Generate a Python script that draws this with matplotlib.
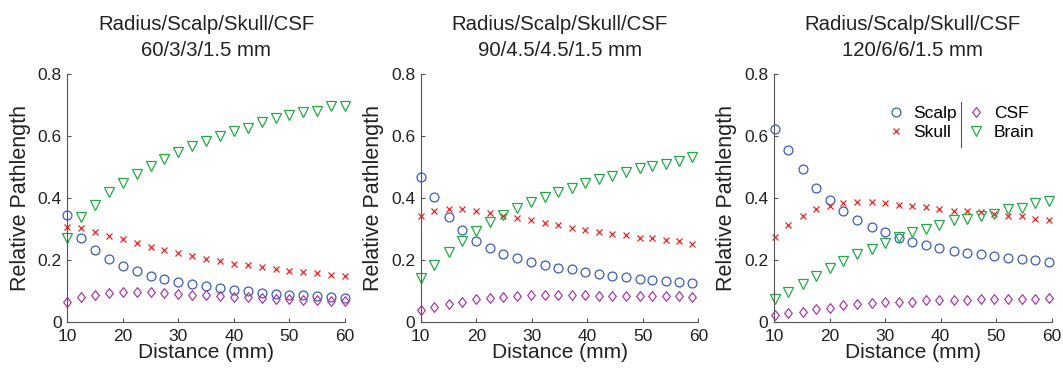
import numpy as np
import matplotlib.pyplot as plt
from matplotlib.path import Path

plt.rcParams['font.family'] = ['Liberation Sans', 'DejaVu Sans']

titles = ['Radius/Scalp/Skull/CSF\n60/3/3/1.5 mm',
          'Radius/Scalp/Skull/CSF\n90/4.5/4.5/1.5 mm',
          'Radius/Scalp/Skull/CSF\n120/6/6/1.5 mm']

# panel 1
x1 = [10, 12.5, 15, 17.5, 20, 22.5, 25, 27.5, 30, 32.5, 35, 37.5, 40, 42.5, 45,
      47.5, 50, 52.5, 55, 57.5, 60]
scalp1 = [0.346, 0.270, 0.234, 0.203, 0.181, 0.165, 0.150, 0.141, 0.130, 0.122, 0.117,
          0.110, 0.105, 0.101, 0.093, 0.091, 0.089, 0.087, 0.084, 0.081, 0.079]
skull1 = [0.308, 0.303, 0.291, 0.278, 0.267, 0.254, 0.242, 0.232, 0.222, 0.213, 0.205,
          0.198, 0.189, 0.185, 0.177, 0.171, 0.165, 0.161, 0.158, 0.151, 0.148]
csf1 = [0.067, 0.083, 0.089, 0.094, 0.097, 0.097, 0.097, 0.093, 0.091, 0.089, 0.087,
        0.084, 0.082, 0.081, 0.077, 0.075, 0.074, 0.072, 0.071, 0.069, 0.068]
brain1 = [0.273, 0.338, 0.378, 0.419, 0.448, 0.478, 0.505, 0.526, 0.550, 0.569, 0.585,
          0.601, 0.617, 0.626, 0.646, 0.657, 0.667, 0.677, 0.680, 0.696, 0.697]

# panel 2
x2 = [10, 12.47, 15.0, 17.4, 19.9, 22.4, 24.9, 27.3, 29.8, 32.3, 34.7, 37.2, 39.5,
      42.1, 44.5, 46.9, 49.4, 51.7, 54.1, 56.5, 58.9]
scalp2 = [0.468, 0.404, 0.339, 0.297, 0.263, 0.239, 0.220, 0.206, 0.194, 0.185, 0.176,
          0.171, 0.162, 0.155, 0.150, 0.145, 0.140, 0.137, 0.132, 0.129, 0.126]
skull2 = [0.343, 0.357, 0.365, 0.364, 0.359, 0.351, 0.343, 0.335, 0.328, 0.320, 0.312,
          0.304, 0.297, 0.292, 0.286, 0.280, 0.273, 0.270, 0.266, 0.261, 0.253]
csf2 = [0.040, 0.050, 0.059, 0.067, 0.074, 0.079, 0.083, 0.085, 0.087, 0.087, 0.087,
        0.087, 0.087, 0.086, 0.085, 0.085, 0.085, 0.084, 0.084, 0.084, 0.083]
brain2 = [0.142, 0.183, 0.226, 0.261, 0.295, 0.322, 0.346, 0.367, 0.387, 0.403, 0.419,
          0.432, 0.448, 0.462, 0.472, 0.483, 0.496, 0.503, 0.510, 0.521, 0.532]

# panel 3
x3 = [10.1, 12.6, 15.2, 17.6, 20.1, 22.5, 25.0, 27.6, 30.0, 32.5, 34.9, 37.4, 39.8,
      42.4, 44.8, 47.3, 49.7, 52.2, 54.6, 57.0, 59.5]
scalp3 = [0.622, 0.554, 0.493, 0.434, 0.394, 0.360, 0.330, 0.307, 0.290, 0.273, 0.260,
          0.249, 0.239, 0.231, 0.224, 0.219, 0.214, 0.208, 0.204, 0.201, 0.194]
skull3 = [0.276, 0.312, 0.343, 0.365, 0.376, 0.383, 0.387, 0.386, 0.383, 0.379, 0.374,
          0.370, 0.365, 0.359, 0.358, 0.354, 0.350, 0.344, 0.341, 0.334, 0.330]
csf3 = [0.024, 0.029, 0.034, 0.042, 0.047, 0.055, 0.058, 0.062, 0.064, 0.067, 0.067,
        0.072, 0.072, 0.072, 0.072, 0.074, 0.074, 0.074, 0.076, 0.076, 0.079]
brain3 = [0.075, 0.098, 0.123, 0.150, 0.174, 0.197, 0.220, 0.236, 0.256, 0.274, 0.290,
          0.302, 0.314, 0.330, 0.333, 0.341, 0.349, 0.365, 0.368, 0.383, 0.392]

panels = [(x1, scalp1, skull1, csf1, brain1),
          (x2, scalp2, skull2, csf2, brain2),
          (x3, scalp3, skull3, csf3, brain3)]

diamond = Path([(0, 1), (0.78, 0), (0, -1), (-0.78, 0), (0, 1)],
               [Path.MOVETO, Path.LINETO, Path.LINETO, Path.LINETO, Path.CLOSEPOLY])

fig = plt.figure(figsize=(10.63, 3.72), dpi=100)
lefts = [0.0633, 0.3958, 0.7281]
axes = []
for i, (x, sc, sk, cs, br) in enumerate(panels):
    ax = fig.add_axes([lefts[i], 0.1336, 0.2612, 0.6675])
    hs = ax.plot(x, sc, 'o', mfc='none', mec='#3a5cc0', ms=6.4, mew=0.9, label='Scalp', clip_on=False)
    hk = ax.plot(x, sk, 'x', color='#ee2222', ms=5, mew=0.9, label='Skull', clip_on=False)
    hc = ax.plot(x, cs, marker=diamond, ls='none', mfc='none', mec='#aa3aaa', ms=7, mew=0.9,
                 label='CSF', clip_on=False)
    hb = ax.plot(x, br, 'v', mfc='none', mec='#22aa44', ms=7, mew=0.9, label='Brain', clip_on=False)
    ax.set_xlim(10, 60)
    ax.set_ylim(0, 0.8)
    ax.set_xticks([10, 20, 30, 40, 50, 60])
    ax.set_yticks([0, 0.2, 0.4, 0.6, 0.8])
    ax.set_yticklabels(['0', '0.2', '0.4', '0.6', '0.8'])
    ax.spines['top'].set_visible(False)
    ax.spines['right'].set_visible(False)
    for s in ['left', 'bottom']:
        ax.spines[s].set_color('#555555')
        ax.spines[s].set_linewidth(0.8)
    ax.tick_params(direction='in', length=3, width=0.8, color='#555555',
                   labelsize=12.5, labelcolor='#222222')
    ax.tick_params(axis='x', pad=5)
    ax.tick_params(axis='y', pad=4)
    ax.set_xlabel('Distance (mm)', fontsize=15, labelpad=-1, color='#222222')
    ax.set_ylabel('Relative Pathlength', fontsize=15.5, labelpad=5, color='#222222')
    ax.set_title(titles[i], fontsize=14.7, pad=13, color='#222222', linespacing=1.45)
    axes.append(ax)
    handles = [hs[0], hk[0], hc[0], hb[0]]

ax = axes[2]
ax.legend(handles=handles, loc='upper right', bbox_to_anchor=(0.975, 0.915), ncol=2,
          frameon=False, fontsize=12.5, handlelength=0.8, handletextpad=0.6,
          columnspacing=0.7, labelspacing=0.25, borderaxespad=0.2)
ax.plot([0.675, 0.675], [0.706, 0.887], transform=ax.transAxes, color='#555555', lw=0.8,
        clip_on=False)

fig.savefig('out.png', dpi=100)
